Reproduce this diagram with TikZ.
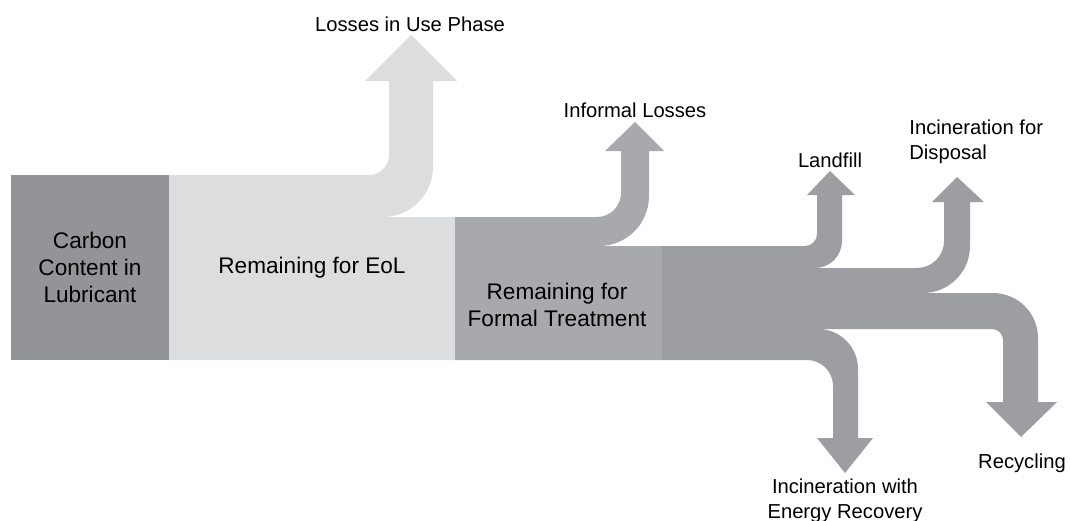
\documentclass[tikz,border=0pt]{standalone}
\usepackage{fontspec}
\setmainfont{Liberation Sans}
\definecolor{carbongray}{HTML}{939497}
\definecolor{eolgray}{HTML}{DCDDDF}
\definecolor{formalgray}{HTML}{A8A9AC}
\definecolor{treatgray}{HTML}{9D9EA1}
\begin{document}
\begin{tikzpicture}[x=0.5pt,y=-0.5pt,
  boxlbl/.style={font=\fontsize{11.3}{13.5}\selectfont,align=center,inner sep=0pt},
  outlbl/.style={font=\fontsize{10.1}{12.5}\selectfont,inner sep=0pt}]
 \useasboundingbox (0,0) rectangle (1070,520);
 % use phase losses and what is left for EoL
 \fill[eolgray] (169,175) -- (369,175) arc[start angle=-90,end angle=0,radius=10pt]
   -- (389,81) -- (365,81) -- (411,35) -- (457,81) -- (433,81) -- (433,167)
   arc[start angle=0,end angle=-90,radius=25pt] -- (455,217) -- (455,360) -- (169,360) -- cycle;
 % informal losses and formal treatment
 \fill[formalgray] (455,217) -- (597,217) arc[start angle=-90,end angle=0,radius=12pt]
   -- (621,151) -- (605,151) -- (635,122) -- (664,151) -- (649,151) -- (649,196)
   arc[start angle=0,end angle=-90,radius=25pt] -- (662,246) -- (662,360) -- (455,360) -- cycle;
 % treatment routes
 \fill[treatgray] (662,246) -- (805,246) arc[start angle=-90,end angle=0,radius=6pt]
   -- (817,195) -- (807,195) -- (830,171) -- (855,195) -- (842,195) -- (842,241)
   arc[start angle=0,end angle=-90,radius=13.5pt] -- (917,268)
   arc[start angle=-90,end angle=0,radius=13.5pt]
   -- (944,202) -- (932,202) -- (957,177) -- (984,202) -- (970,202) -- (970,246)
   arc[start angle=0,end angle=-90,radius=23.5pt] -- (993,293)
   arc[start angle=90,end angle=0,radius=22.5pt]
   -- (1038,402) -- (1057,402) -- (1021,437) -- (986,402) -- (1003,402) -- (1003,340)
   arc[start angle=0,end angle=90,radius=5.5pt] -- (818,329)
   arc[start angle=90,end angle=0,radius=20pt]
   -- (858,438) -- (873,438) -- (845,473) -- (817,438) -- (833,438) -- (833,386)
   arc[start angle=0,end angle=90,radius=13pt] -- (662,360) -- cycle;
 \node[boxlbl,fill=carbongray,minimum width=79pt,minimum height=92.5pt]
   (carbon) at (90,267.5) {Carbon\\Content in\\Lubricant};
 \node[boxlbl] (eol) at (312,268) {Remaining for EoL};
 \node[boxlbl] (formal) at (557,305) {Remaining for\\Formal Treatment};
 \node[outlbl,anchor=base] (use) at (410,31) {Losses in Use Phase};
 \node[outlbl,anchor=base] (informal) at (635,117) {Informal Losses};
 \node[outlbl,anchor=base] (landfill) at (830,167) {Landfill};
 \node[outlbl,anchor=west,align=left] (disposal) at (909,142) {Incineration for\\Disposal};
 \node[outlbl,anchor=base] (recycling) at (1022,468) {Recycling};
 \node[outlbl,align=center] (energy) at (845,501) {Incineration with\\Energy Recovery};
\end{tikzpicture}
\end{document}
